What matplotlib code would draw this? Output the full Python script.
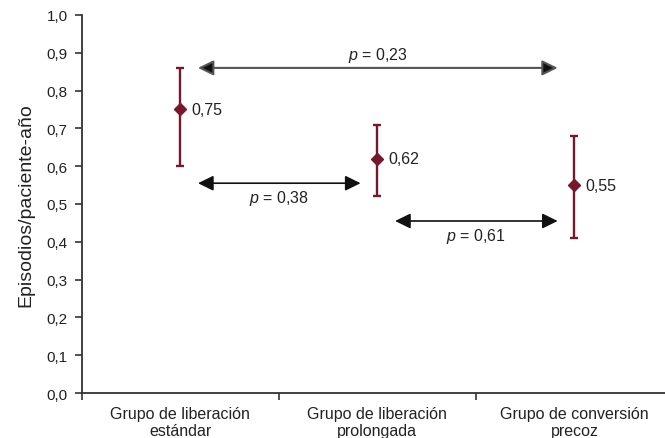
import matplotlib
matplotlib.use('Agg')
import matplotlib.pyplot as plt
import numpy as np

plt.rcParams['font.family'] = ['Liberation Sans', 'DejaVu Sans']
plt.rcParams['mathtext.fontset'] = 'custom'
plt.rcParams['mathtext.it'] = 'Liberation Sans:italic'
plt.rcParams['mathtext.rm'] = 'Liberation Sans'

# Data
categories = ['Grupo de liberación\nestándar', 'Grupo de liberación\nprolongada',
              'Grupo de conversión\nprecoz']
rates = [0.75, 0.62, 0.55]
ci_low = [0.60, 0.52, 0.41]
ci_high = [0.86, 0.71, 0.68]
value_labels = ['0,75', '0,62', '0,55']

# comparisons: (from group, to group, y level, p text, text above?)
comp_from = [0, 0, 1]
comp_to = [2, 1, 2]
comp_y = [0.86, 0.555, 0.455]
comp_p = ['0,23', '0,38', '0,61']
comp_above = [True, False, False]

red = '#76182a'
txt = '#222222'

fig = plt.figure(figsize=(6.65, 4.39), dpi=100)
ax = fig.add_axes([0.1229, 0.1025, 0.8891, 0.8611])

x = np.arange(len(categories)) + 0.5
yerr = [np.array(rates) - np.array(ci_low), np.array(ci_high) - np.array(rates)]
ax.errorbar(x, rates, yerr=yerr, fmt='D', color=red, ecolor=red, elinewidth=1.7,
            capsize=3, capthick=1.7, markersize=6.5, zorder=3)

for xi, r, lab in zip(x, rates, value_labels):
    ax.text(xi + 0.055, r, lab, fontsize=11.5, va='center', ha='left', color=txt)

for a, b, yv, p, above in zip(comp_from, comp_to, comp_y, comp_p, comp_above):
    x0 = x[a] + 0.09
    x1 = x[b] - 0.085
    lw = 1.5 if above else 1.2
    lc = '#555555' if above else '#111111'
    ax.annotate('', xy=(x1, yv), xytext=(x0, yv),
                arrowprops=dict(arrowstyle='<|-|>,head_length=0.55,head_width=0.27',
                                mutation_scale=17, shrinkA=0, shrinkB=0,
                                lw=lw, color=lc, fc='#111111'))
    ax.text((x0 + x1) / 2, yv + (0.01 if above else -0.012), '$p$ = ' + p,
            fontsize=11.5, ha='center', va='bottom' if above else 'top', color=txt)

ax.set_xlim(0, 3)
ax.set_ylim(0, 1.0)
yt = np.round(np.arange(0, 1.01, 0.1), 1)
ax.set_yticks(yt)
ax.set_yticklabels([f'{v:.1f}'.replace('.', ',') for v in yt])
ax.set_xticks([0, 1, 2, 3])
ax.set_xticklabels([])
ax.set_xticks(x, minor=True)
ax.set_xticklabels(categories, minor=True)
ax.tick_params(axis='x', which='minor', length=0, pad=9, labelsize=11.5, labelcolor=txt)
ax.tick_params(axis='x', which='major', length=5, width=1.2, color='#333333')
ax.tick_params(axis='y', length=5, width=1.2, color='#333333', labelsize=11,
               labelcolor=txt, pad=5)

for s in ['top', 'right']:
    ax.spines[s].set_visible(False)
for s in ['left', 'bottom']:
    ax.spines[s].set_color('#333333')
    ax.spines[s].set_linewidth(1.3)

ax.set_ylabel('Episodios/paciente-año', fontsize=14, color=txt, labelpad=9)

fig.savefig('out.png', dpi=100)
